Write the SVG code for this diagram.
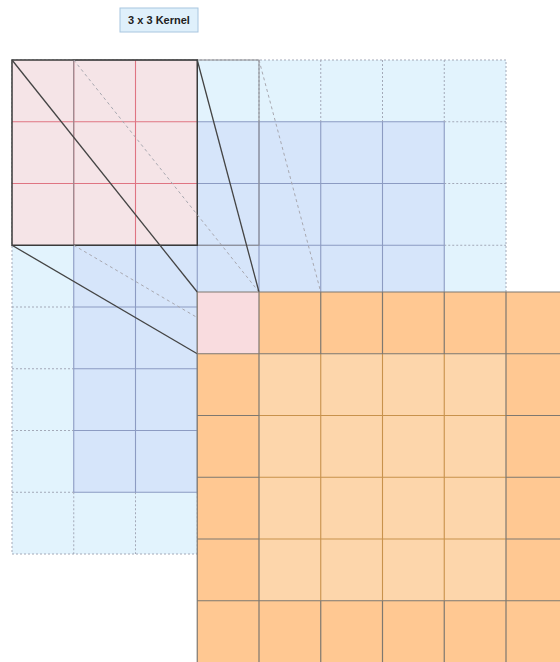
<svg xmlns="http://www.w3.org/2000/svg" width="560" height="662" viewBox="0 0 560 662">
<style>
.cyan{fill:#e2f3fd}
.blue{fill:#d6e5fa}
.dash{fill:none;stroke:#a3a9b8;stroke-width:1;stroke-dasharray:2,2}
.bline{fill:none;stroke:#8c9bc2;stroke-width:1.1}
.kfill{fill:#f5e4e7}
.kred{fill:none;stroke:#df7482;stroke-width:1.1}
.ghost{fill:none;stroke:#8a8a8e;stroke-width:1}
.kborder{fill:none;stroke:#3a3a3a;stroke-width:1.5}
.odark{fill:#ffc892}
.olight{fill:#fdd6ab}
.opink{fill:#f9dcdf}
.oinner{fill:none;stroke:#c8924c;stroke-width:1.1}
.oline{fill:none;stroke:#7e7870;stroke-width:1.2}
.conn{fill:none;stroke:#444;stroke-width:1.3}
.faint{fill:none;stroke:#a8a8b0;stroke-width:1;stroke-dasharray:3,3}
.lbox{fill:#dff0fb;stroke:#a8c6df;stroke-width:1}
.ltext{font-family:"Liberation Sans",Arial,sans-serif;font-size:11px;font-weight:bold;fill:#222;text-anchor:middle}
</style>
<g id="input-grid">
<rect class="cyan" x="12" y="60" width="494" height="494"/>
<rect class="blue" x="73.75" y="121.75" width="370.5" height="370.5"/>
<path class="dash" d="M73.75 60V121.75M135.5 60V121.75M197.25 60V121.75M259 60V121.75M320.75 60V121.75M382.5 60V121.75M444.25 60V121.75M73.75 492.25V554M135.5 492.25V554M197.25 492.25V554M259 492.25V554M320.75 492.25V554M382.5 492.25V554M444.25 492.25V554M12 121.75H73.75M12 183.5H73.75M12 245.25H73.75M12 307H73.75M12 368.75H73.75M12 430.5H73.75M12 492.25H73.75M444.25 121.75H506M444.25 183.5H506M444.25 245.25H506M444.25 307H506M444.25 368.75H506M444.25 430.5H506M444.25 492.25H506"/>
<rect class="dash" x="12" y="60" width="494" height="494"/>
<path class="bline" d="M73.75 121.75V492.25M135.5 121.75V492.25M197.25 121.75V492.25M259 121.75V492.25M320.75 121.75V492.25M382.5 121.75V492.25M444.25 121.75V492.25M73.75 121.75H444.25M73.75 183.5H444.25M73.75 245.25H444.25M73.75 307H444.25M73.75 368.75H444.25M73.75 430.5H444.25M73.75 492.25H444.25"/>
</g>
<g id="kernel">
<rect class="kfill" x="12" y="60" width="185.25" height="185.25"/>
<path class="kred" d="M73.75 60V245.25M135.5 60V245.25M12 121.75H197.25M12 183.5H197.25"/>
<rect class="ghost" x="73.75" y="60" width="185.25" height="185.25"/>
<rect class="kborder" x="12" y="60" width="185.25" height="185.25"/>
</g>
<g id="connectors">
<line class="faint" x1="73.75" y1="60" x2="259" y2="292"/>
<line class="faint" x1="259" y1="60" x2="320.75" y2="292"/>
<line class="faint" x1="73.75" y1="245.25" x2="259" y2="353.75"/>
<line class="conn" x1="12" y1="60" x2="197.25" y2="292"/>
<line class="conn" x1="197.25" y1="60" x2="259" y2="292"/>
<line class="conn" x1="12" y1="245.25" x2="197.25" y2="353.75"/>
</g>
<g id="output-grid">
<rect class="odark" x="197.25" y="292" width="370.5" height="370.5"/>
<rect class="olight" x="259" y="353.75" width="247" height="247"/>
<rect class="opink" x="197.25" y="292" width="61.75" height="61.75"/>
<path class="oinner" d="M320.75 353.75V600.75M382.5 353.75V600.75M444.25 353.75V600.75M259 415.5H506M259 477.25H506M259 539H506"/>
<path class="oline" d="M197.25 292V662.5M197.25 292H567.75M259 292V662.5M320.75 292V353.75M382.5 292V353.75M444.25 292V353.75M506 292V662.5M320.75 600.75V662.5M382.5 600.75V662.5M444.25 600.75V662.5M197.25 353.75H567.75M197.25 415.5H259M197.25 477.25H259M197.25 539H259M197.25 600.75H567.75M506 415.5H567.75M506 477.25H567.75M506 539H567.75"/>
</g>
<g id="kernel-label">
<rect class="lbox" x="120" y="8" width="78" height="24"/>
<text class="ltext" x="159" y="24">3 x 3 Kernel</text>
</g>
</svg>
